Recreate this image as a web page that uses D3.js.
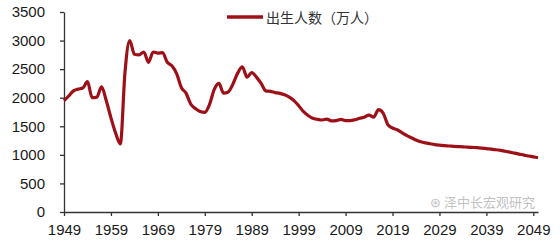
<!DOCTYPE html>
<html>
<head>
<meta charset="utf-8">
<script src="https://cdn.jsdelivr.net/npm/d3@7"></script>
<style>
  body { margin: 0; background: #fff; }
  .axis text { font-family: "Liberation Sans", Arial, sans-serif; font-size: 15px; fill: #1a1a1a; }
  .axis path, .axis line { stroke: #333; stroke-width: 1.3; }
</style>
</head>
<body>
<script>
// chart size
var width = 560;
var height = 250;

// years and births (万人)
var firstYear = 1949;
var births = [
  1950, 2030, 2120, 2150, 2170, 2280, 2000, 2010, 2190, 1950,   // 1949-1958
  1650, 1380, 1190, 2450, 3000, 2760, 2750, 2800, 2620, 2800,   // 1959-1968
  2780, 2790, 2620, 2560, 2420, 2180, 2080, 1890, 1810, 1760,   // 1969-1978
  1745, 1880, 2140, 2250, 2080, 2100, 2240, 2430, 2540, 2360,   // 1979-1988
  2440, 2360, 2250, 2120, 2110, 2090, 2075, 2050, 2010, 1950,   // 1989-1998
  1860, 1760, 1690, 1640, 1620, 1610, 1625, 1595, 1600, 1620,   // 1999-2008
  1600, 1600, 1615, 1640, 1660, 1695, 1660, 1790, 1730, 1530,   // 2009-2018
  1470, 1440, 1390, 1340, 1300, 1260, 1230, 1210, 1195, 1180,   // 2019-2028
  1170, 1162, 1155, 1150, 1145, 1140, 1135, 1130, 1125, 1118,   // 2029-2038
  1110, 1100, 1090, 1078, 1063, 1047, 1030, 1013, 995, 980,     // 2039-2048
  965, 950                                                      // 2049-2050
];
var years = births.map(function(d, i) { return firstYear + i; });
var xTicks = [1949, 1959, 1969, 1979, 1989, 1999, 2009, 2019, 2029, 2039, 2049];
var yTicks = [0, 500, 1000, 1500, 2000, 2500, 3000, 3500];
var seriesName = "出生人数（万人）";

var data = years.map(function(y, i) { return [y, births[i]]; });

var svg = d3.select("body").append("svg")
  .attr("width", width)
  .attr("height", height);

var xScale = d3.scaleLinear()
  .domain([1949, 2050])
  .range([64, 538]);

var yScale = d3.scaleLinear()
  .domain([0, 3500])
  .range([212, 12]);

// y axis
svg.append("g")
  .attr("class", "axis")
  .attr("transform", "translate(64,0)")
  .call(d3.axisLeft(yScale).tickValues(yTicks).tickSize(4).tickPadding(15).tickSizeOuter(0).tickFormat(d3.format("d")));

// x axis
svg.append("g")
  .attr("class", "axis")
  .attr("transform", "translate(0,212)")
  .call(d3.axisBottom(xScale).tickValues(xTicks).tickSize(4).tickPadding(8).tickSizeOuter(0).tickFormat(d3.format("d")));

// the line
var line = d3.line()
  .x(function(d) { return xScale(d[0]); })
  .y(function(d) { return yScale(d[1]); })
  .curve(d3.curveMonotoneX);

svg.append("path")
  .datum(data)
  .attr("fill", "none")
  .attr("stroke", "#9e1018")
  .attr("stroke-width", 3.2)
  .attr("stroke-linejoin", "round")
  .attr("d", line);

// legend
svg.append("line")
  .attr("x1", 227).attr("x2", 263)
  .attr("y1", 17).attr("y2", 17)
  .attr("stroke", "#9e1018")
  .attr("stroke-width", 3.5);

svg.append("text")
  .attr("x", 266)
  .attr("y", 23)
  .style("font-family", "'Noto Sans CJK SC', sans-serif")
  .style("font-size", "14px")
  .style("fill", "#333")
  .text(seriesName);

// watermark, kept just above the tick labels
svg.append("text")
  .attr("x", 430)
  .attr("y", 207)
  .style("font-family", "'Noto Sans CJK SC', sans-serif")
  .style("font-size", "13px")
  .style("fill", "#999")
  .style("opacity", 0.6)
  .text("⊛ 泽中长宏观研究");
</script>
</body>
</html>
